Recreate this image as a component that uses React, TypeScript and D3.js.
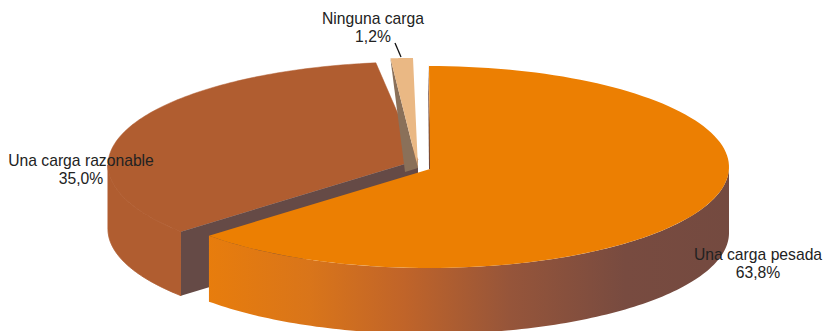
import React from "react";
import * as d3 from "d3";

const categories = ["Una carga pesada", "Una carga razonable", "Ninguna carga"];
const values = [63.8, 35.0, 1.2];
const labels = ["63,8%", "35,0%", "1,2%"];
const topColors = ["#ec7f02", "#b05d30", "#eab884"];
const innerColors = ["#6d4439", "#654a46", "#8a7059"];

type Geo = { cx: number; cy: number; ax: number; ay: number; rx: number; ry: number; depth: number; pad0: number; pad1: number };
const geos: Geo[] = [
  { cx: 429, cy: 167, ax: 430, ay: 169, rx: 300, ry: 101, depth: 66, pad0: 0, pad1: 2.5 },
  { cx: 415, cy: 165, ax: 418, ay: 160, rx: 307, ry: 103, depth: 64, pad0: 0, pad1: 3 },
  { cx: 413, cy: 161, ax: 418, ay: 168, rx: 300, ry: 103, depth: 0, pad0: 0, pad1: 0 },
];

const rad = (d: number) => (d * Math.PI) / 180;

function App() {
  const arcs = d3.pie<number>().sort(null)(values);
  const pt = (g: Geo, a: number, dy = 0): [number, number] => [g.cx + g.rx * Math.sin(a), g.cy - g.ry * Math.cos(a) + dy];
  const line = d3.line();
  const range = (a0: number, a1: number) => d3.range(0, 121).map((i) => a0 + ((a1 - a0) * i) / 120);
  const slices = arcs.map((d, i) => {
    const g = geos[i];
    return { g, a0: d.startAngle + rad(g.pad0), a1: d.endAngle - rad(g.pad1) };
  });
  const top = (i: number) => {
    const { g, a0, a1 } = slices[i];
    return line([[g.ax, g.ay], ...range(a0, a1).map((a) => pt(g, a))])! + "Z";
  };
  const wall = (i: number, from: number, to: number) => {
    const { g } = slices[i];
    const r = range(from, to);
    return line([...r.map((a) => pt(g, a)), ...r.slice().reverse().map((a) => pt(g, a, g.depth))])! + "Z";
  };
  const b = slices[1];
  const o = slices[0];
  const p = slices[2];
  const bc = pt(b.g, b.a0);
  const bInner = line([bc, [bc[0], bc[1] + b.g.depth], [b.g.ax, b.g.ay + b.g.depth], [b.g.ax, b.g.ay]])! + "Z";
  const pl = pt(p.g, p.a0);
  const font = "'Liberation Sans', Arial, sans-serif";
  const textLabel = (x: number, y: number, i: number) => (
    <text x={x} y={y} textAnchor="middle" fontFamily={font} fontSize={15.7} fill="#222">
      <tspan x={x}>{categories[i]}</tspan>
      <tspan x={x} dy={18}>{labels[i]}</tspan>
    </text>
  );
  return (
    <svg width={824} height={331} style={{ position: "absolute", left: 0, top: 0, background: "#fff" }}>
      <defs>
        <linearGradient id="ow" gradientUnits="userSpaceOnUse" x1={205} x2={730} y1={0} y2={0}>
          <stop offset="0" stopColor="#e87d0c" />
          <stop offset="0.2" stopColor="#d9751a" />
          <stop offset="0.38" stopColor="#c06429" />
          <stop offset="0.58" stopColor="#96553a" />
          <stop offset="0.8" stopColor="#784b40" />
          <stop offset="1" stopColor="#744a40" />
        </linearGradient>
      </defs>
      <path d={wall(1, b.a0, rad(270))} fill={topColors[1]} stroke={topColors[1]} strokeWidth={1} />
      <path d={top(1)} fill={topColors[1]} stroke={topColors[1]} strokeWidth={0.5} />
      <path d={bInner} fill={innerColors[1]} />
      <path d={line([pl, [p.g.ax, p.g.ay], [405, 172]])! + "Z"} fill={innerColors[2]} />
      <path d={top(2)} fill={topColors[2]} />
      <path d={wall(0, rad(90), o.a1)} fill="url(#ow)" />
      <path d={line([[428, 65], [o.g.ax + 1.5, o.g.ay], [o.g.ax - 1, o.g.ay]])! + "Z"} fill={innerColors[0]} />
      <path d={top(0)} fill={topColors[0]} />
      <line x1={395} y1={43} x2={401} y2={57} stroke="#111" strokeWidth={1.3} />
      {textLabel(373, 24, 2)}
      {textLabel(81, 166, 1)}
      {textLabel(758, 260, 0)}
    </svg>
  );
}

export default App;
